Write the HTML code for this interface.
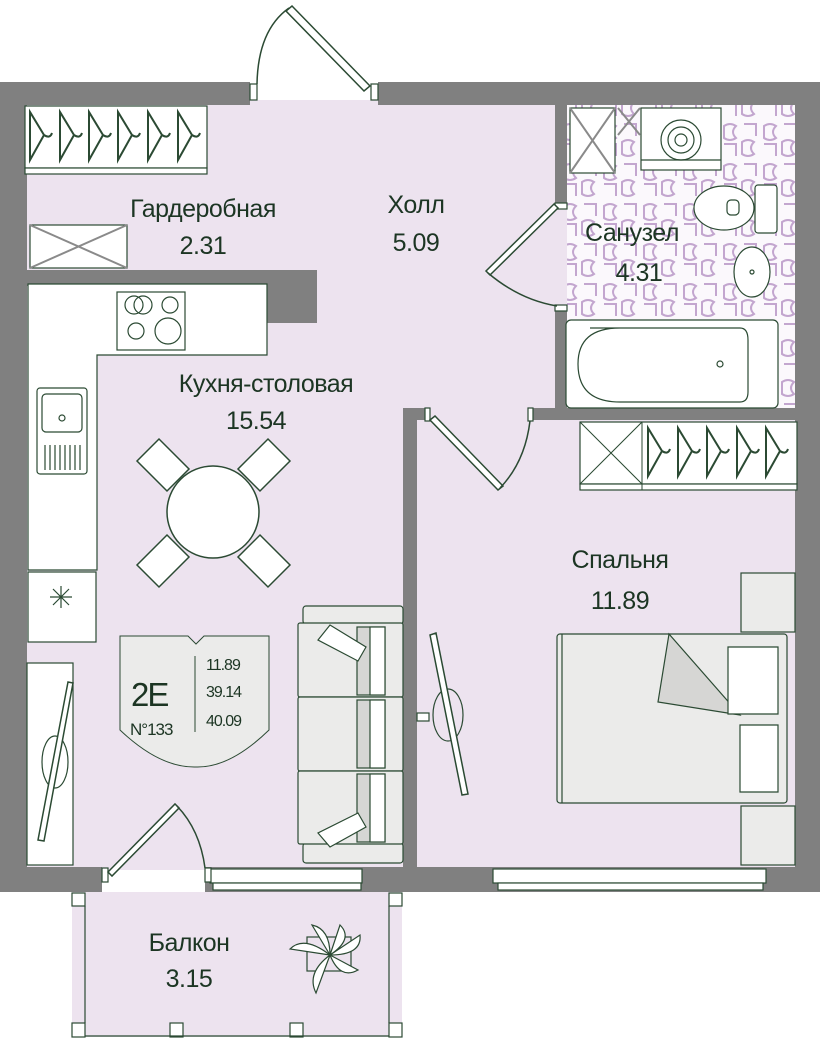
<!DOCTYPE html>
<html><head><meta charset="utf-8"><style>
html,body{margin:0;padding:0;background:#fff;}
svg{display:block;}
text{font-family:"Liberation Sans",sans-serif;fill:#1c3523;}
</style></head><body>
<svg width="820" height="1039" viewBox="0 0 820 1039" xmlns="http://www.w3.org/2000/svg">
<defs>
<pattern id="tile" width="40" height="40" patternUnits="userSpaceOnUse">
<rect width="40" height="40" fill="#fbf8fc"/>
<path d="M4 6 q6 -4 12 0 q-6 6 0 12 q-6 4 -12 0 z M22 22 q6 -4 12 0 q-6 6 0 12 q-6 4 -12 0 z M24 4 h12 v12 M4 24 h12 v12" fill="none" stroke="#c3a6cf" stroke-width="2"/>
</pattern>
</defs>
<rect x="27" y="100" width="770" height="770" fill="#ede3ef"/>
<rect x="567" y="105" width="228" height="303" fill="url(#tile)"/>
<rect x="72" y="892" width="330" height="145" fill="#ede3ef"/>
<g fill="#808080">
<rect x="0" y="82" width="250" height="23"/>
<rect x="378" y="82" width="442" height="23"/>
<rect x="0" y="82" width="27" height="810"/>
<rect x="795" y="82" width="25" height="810"/>
<rect x="27" y="270" width="290" height="16"/>
<rect x="267" y="270" width="50" height="53"/>
<rect x="555" y="105" width="12" height="100"/>
<rect x="555" y="308" width="12" height="112"/>
<rect x="403" y="408" width="22" height="12"/>
<rect x="530" y="408" width="265" height="12"/>
<rect x="403" y="408" width="14" height="484"/>
<rect x="0" y="867" width="102" height="25"/>
<rect x="205" y="867" width="212" height="25"/>
<rect x="417" y="867" width="403" height="25"/>
</g>
<g fill="#fff" stroke="#2b4a33" stroke-width="1.2">
<rect x="210" y="869" width="152" height="14"/><rect x="213" y="883" width="148" height="7"/>
<rect x="493" y="869" width="273" height="14"/><rect x="498" y="883" width="265" height="7"/>
<rect x="250" y="84" width="7" height="16"/><rect x="371" y="84" width="7" height="16"/>
<rect x="555" y="203" width="12" height="6"/><rect x="555" y="305" width="12" height="6"/>
<rect x="425" y="408" width="5" height="13"/><rect x="528" y="408" width="5" height="13"/>
<rect x="102" y="868" width="6" height="14"/><rect x="205" y="868" width="6" height="14"/>
<rect x="25" y="106" width="182" height="62"/><rect x="25" y="168" width="182" height="6"/>
<path d="M28 284 H267 V355 H97 V570 H28 Z"/>
<rect x="117" y="292" width="68" height="58"/>
<rect x="28" y="572" width="68" height="70"/>
<rect x="27" y="663" width="46" height="202"/>
<rect x="37" y="388" width="50" height="86" rx="3"/>
<rect x="580" y="422" width="217" height="62"/><rect x="580" y="484" width="217" height="6"/>
<rect x="641" y="108" width="80" height="62"/>
<rect x="566" y="320" width="212" height="88" rx="5"/>
<rect x="755" y="185" width="22" height="48" rx="3"/>
<rect x="30" y="225" width="97" height="43"/>
<rect x="570" y="108" width="45" height="65"/>
<rect x="72" y="893" width="13" height="13"/><rect x="389" y="893" width="13" height="13"/>
<rect x="72" y="1023" width="13" height="14"/><rect x="389" y="1023" width="13" height="14"/>
<rect x="170" y="1023" width="13" height="14"/><rect x="290" y="1023" width="13" height="14"/>
<path d="M85 906 V1023 M389 906 V1023 M85 1036 H389" fill="none"/>
</g>
<g stroke="#8a8a8a" stroke-width="2" fill="none">
<path d="M30 225 L127 268 M127 225 L30 268"/>
<path d="M570 108 L615 173 M615 108 L570 173 M618 108 L640 135 M640 108 L618 135"/>
</g>
<path d="M580 422 L642 484 M642 422 L580 484 M642 422 V490" stroke="#2b4a33" stroke-width="1" fill="none"/>
<g stroke="#2b4a33" stroke-width="2" fill="none">
<path d="M30 112 v48 l14 -25 z M44 135 q6 4 8 -2"/>
<path d="M60 112 v48 l14 -25 z M74 135 q6 4 8 -2"/>
<path d="M89 112 v48 l14 -25 z M103 135 q6 4 8 -2"/>
<path d="M118 112 v48 l14 -25 z M132 135 q6 4 8 -2"/>
<path d="M148 112 v48 l14 -25 z M162 135 q6 4 8 -2"/>
<path d="M178 112 v48 l14 -25 z M192 135 q6 4 8 -2"/>
<path d="M648 428 v48 l14 -25 z M662 451 q6 4 8 -2"/>
<path d="M678 428 v48 l14 -25 z M692 451 q6 4 8 -2"/>
<path d="M707 428 v48 l14 -25 z M721 451 q6 4 8 -2"/>
<path d="M737 428 v48 l14 -25 z M751 451 q6 4 8 -2"/>
<path d="M766 428 v48 l14 -25 z M780 451 q6 4 8 -2"/>
</g>
<g stroke="#2b4a33" stroke-width="1.2" fill="none">
<circle cx="134" cy="305" r="9"/><circle cx="143" cy="305" r="9"/><circle cx="170" cy="305" r="8"/>
<circle cx="136" cy="331" r="8"/><circle cx="168" cy="331" r="13"/>
<rect x="42" y="394" width="40" height="38" rx="4"/><circle cx="62" cy="418" r="3"/>
<path d="M45 445 v25 M50 445 v25 M55 445 v25 M60 445 v25 M65 445 v25 M70 445 v25 M75 445 v25 M80 445 v25"/>
<path d="M50 597 h22 M61 586 v22 M53 589 l16 16 M69 589 l-16 16"/>
<circle cx="681" cy="140" r="20"/><circle cx="681" cy="140" r="13"/><circle cx="681" cy="140" r="6"/>
<path d="M641 160 H721"/>
<ellipse cx="724" cy="208" rx="30" ry="22" fill="#fff"/><rect x="727" y="200" width="12" height="15" rx="4"/>
<ellipse cx="752" cy="272" rx="18" ry="25" fill="#fff"/><circle cx="752" cy="272" r="2"/>
<path d="M590 328 H740 Q748 328 748 340 V392 Q748 402 740 402 H620 Q578 402 578 364 Q578 328 620 328" />
<circle cx="720" cy="364" r="3"/>
<ellipse cx="448" cy="715" rx="15" ry="26"/>
<ellipse cx="55" cy="762" rx="13" ry="26"/>
<rect x="417" y="713" width="12" height="8" fill="#fff"/>
</g>
<g stroke="#2b4a33" stroke-width="1.5" fill="#fff">
<path d="M370 86 L292 6 L286 11 L364 91 Z"/>
<path d="M558 208 L490 275 L486 271 L554 204 Z"/>
<path d="M430 420 L498 490 L503 486 L435 416 Z"/>
<path d="M108 872 L175 804 L179 808 L112 876 Z"/>
<path d="M430 635 L462 795 L468 794 L436 633 Z"/>
<path d="M68 682 L38 840 L44 841 L73 683 Z"/>
</g>
<g stroke="#2b4a33" stroke-width="1.5" fill="none">
<path d="M257 84 Q258 30 289 8"/>
<path d="M488 273 Q520 300 557 306"/>
<path d="M500 488 Q525 462 530 421"/>
<path d="M177 806 Q200 830 205 868"/>
</g>
<g stroke="#2b4a33" stroke-width="1.5" fill="#fff">
<path d="M137 461 l22 -22 l30 30 l-22 22 z"/>
<path d="M290 461 l-22 -22 l-30 30 l22 22 z"/>
<path d="M137 565 l22 22 l30 -30 l-22 -22 z"/>
<path d="M290 565 l-22 22 l-30 -30 l22 -22 z"/>
<circle cx="213" cy="512" r="46"/>
</g>
<g stroke="#2b4a33" stroke-width="1.2">
<rect x="303" y="606" width="100" height="18" rx="3" fill="#ebebea"/>
<rect x="303" y="843" width="100" height="20" rx="3" fill="#ebebea"/>
<rect x="298" y="623" width="105" height="74" rx="2" fill="#ebebea"/>
<rect x="298" y="697" width="105" height="74" rx="2" fill="#ebebea"/>
<rect x="298" y="771" width="105" height="73" rx="2" fill="#ebebea"/>
<rect x="357" y="627" width="28" height="68" fill="#d6d6d4"/><rect x="370" y="627" width="15" height="68" fill="#fff"/>
<rect x="357" y="700" width="28" height="68" fill="#d6d6d4"/><rect x="370" y="700" width="15" height="68" fill="#fff"/>
<rect x="357" y="774" width="28" height="68" fill="#d6d6d4"/><rect x="370" y="774" width="15" height="68" fill="#fff"/>
<path d="M318 640 l12 -15 l36 22 l-8 14 z" fill="#fff"/>
<path d="M318 833 l12 14 l36 -20 l-8 -14 z" fill="#fff"/>
</g>
<g stroke="#2b4a33" stroke-width="1.2">
<rect x="741" y="573" width="54" height="59" fill="#ebebea"/>
<rect x="741" y="806" width="54" height="59" fill="#ebebea"/>
<rect x="557" y="634" width="230" height="169" rx="3" fill="#ebebea"/>
<path d="M562 634 V803"/>
<path d="M669 634 L658 702 L740 715 Z" fill="#d6d6d4"/>
<path d="M728 647 H778 V714 H728 Z" fill="#fff"/>
<path d="M740 725 H778 V792 H740 Z" fill="#fff"/>
</g>
<g stroke="#2b4a33" stroke-width="1.2" fill="#fff">
<rect x="307" y="937" width="44" height="34" fill="none"/>
<path d="M330 955 l-40 -6 q14 -14 40 6 z M330 955 l10 -30 q14 14 -10 30 z M330 955 l30 -20 q2 20 -30 20 z M330 955 l28 15 q-18 10 -28 -15 z M330 955 l-14 38 q-10 -20 14 -38 z M330 955 l-18 -30 q18 4 18 30 z"/>
</g>
<path d="M120 636 H188 L196 644 L204 636 H269 V730 Q230 768 196 767 Q160 768 120 730 Z" fill="#ebebea" stroke="#2b4a33" stroke-width="1"/>
<path d="M195 656 V732" stroke="#2b4a33" stroke-width="1"/>
<text x="131" y="706" font-size="33" letter-spacing="-2">2E</text>
<text x="130" y="735" font-size="17" letter-spacing="-1">N°133</text>
<text x="206" y="670" font-size="16" letter-spacing="-1">11.89</text>
<text x="206" y="697" font-size="16" letter-spacing="-1">39.14</text>
<text x="206" y="726" font-size="16" letter-spacing="-1">40.09</text>
<g font-size="25" text-anchor="middle" letter-spacing="-0.5">
<text x="203" y="217">Гардеробная</text>
<text x="203" y="254">2.31</text>
<text x="416" y="213">Холл</text>
<text x="416" y="251">5.09</text>
<text x="266" y="392">Кухня-столовая</text>
<text x="256" y="429">15.54</text>
<text x="632" y="241">Санузел</text>
<text x="639" y="281">4.31</text>
<text x="620" y="568">Спальня</text>
<text x="620" y="609">11.89</text>
<text x="189" y="951">Балкон</text>
<text x="189" y="987">3.15</text>
</g>
</svg>
</body></html>
